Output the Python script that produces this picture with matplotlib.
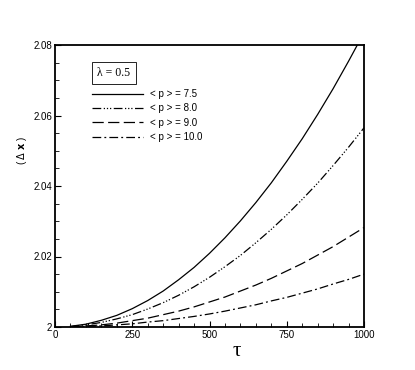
import matplotlib
matplotlib.use("Agg")
import matplotlib.pyplot as plt
from matplotlib.ticker import MultipleLocator, FuncFormatter

tau = [50, 100, 150, 200, 250, 300, 350, 400, 450, 500, 550, 600, 650, 700,
       750, 800, 850, 900, 950, 1000]
dx_75 = [2.0002, 2.0008, 2.0019, 2.0033, 2.0052, 2.0075, 2.0102, 2.0134, 2.0169, 2.0209,
         2.0253, 2.0301, 2.0353, 2.0409, 2.0470, 2.0534, 2.0603, 2.0676, 2.0754, 2.0835]
dx_80 = [2.0001, 2.0006, 2.0013, 2.0023, 2.0035, 2.0051, 2.0069, 2.0090, 2.0114, 2.0141,
         2.0171, 2.0203, 2.0239, 2.0277, 2.0318, 2.0362, 2.0408, 2.0458, 2.0510, 2.0565]
dx_90 = [2.0001, 2.0003, 2.0006, 2.0011, 2.0018, 2.0025, 2.0035, 2.0045, 2.0057, 2.0071,
         2.0085, 2.0102, 2.0119, 2.0138, 2.0159, 2.0180, 2.0204, 2.0228, 2.0255, 2.0282]
dx_100 = [2.0000, 2.0002, 2.0003, 2.0006, 2.0009, 2.0014, 2.0018, 2.0024, 2.0030, 2.0037,
          2.0045, 2.0054, 2.0063, 2.0074, 2.0084, 2.0096, 2.0108, 2.0122, 2.0135, 2.0150]
labels = ["< p > = 7.5", "< p > = 8.0", "< p > = 9.0", "< p > = 10.0"]
xticks = [0, 250, 500, 750, 1000]
yticks = [2.00, 2.02, 2.04, 2.06, 2.08]

plt.rcParams['font.family'] = ['Liberation Sans', 'DejaVu Sans']

W, H = 415, 370
fig = plt.figure(figsize=(W / 100, H / 100), dpi=100)
L, R, T, B = 55, 364, 45, 327
ax = fig.add_axes([L / W, 1 - B / H, (R - L) / W, (B - T) / H])

styles = [
    dict(linestyle='-'),
    dict(linestyle=(0, (7, 2, 1, 1.5, 1, 1.5, 1, 2))),
    dict(linestyle=(0, (9, 3.5))),
    dict(linestyle=(0, (7, 2.5, 1.5, 2.5))),
]
series = [dx_75, dx_80, dx_90, dx_100]
lines = []
for ys, st, lab in zip(series, styles, labels):
    ln, = ax.plot(tau, ys, color='black', lw=0.9, label=lab, **st)
    lines.append(ln)

ax.set_xlim(0, 1000)
ax.set_ylim(2.0, 2.08)
ax.set_xticks(xticks)
ax.set_yticks(yticks)
ax.xaxis.set_minor_locator(MultipleLocator(50))
ax.yaxis.set_minor_locator(MultipleLocator(0.005))
ax.yaxis.set_major_formatter(FuncFormatter(lambda v, p: ('%.2f' % v).rstrip('0').rstrip('.')))
ax.tick_params(which='both', direction='in', top=False, right=False, labelsize=7, pad=2)
ax.tick_params(which='major', length=4.5, width=0.8)
ax.tick_params(which='minor', length=3, width=0.6)
for s in ax.spines.values():
    s.set_linewidth(1.3)

# legend
leg = ax.legend(handles=lines, loc='upper left', bbox_to_anchor=((92 - L) / (R - L), 1 - (89 - T) / (B - T)),
                frameon=False, fontsize=7, handlelength=5.2, handletextpad=0.8,
                labelspacing=0.45, borderpad=0, borderaxespad=0)

ax.text((114 - L) / (R - L) * 1000, 2.08 - (73 - T) / (B - T) * 0.08, 'λ = 0.5',
        fontsize=8.5, family='Liberation Serif', ha='center', va='center',
        bbox=dict(boxstyle='square,pad=0.45', fc='white', ec='black', lw=0.6))

fig.text(237 / W, 1 - 352 / H, 'τ', fontsize=15, ha='center', va='center',
         family='Liberation Serif')
fig.text(22 / W, 1 - 151 / H, r'( $\Delta$ $\mathbf{x}$ )', fontsize=7, rotation=90,
         ha='center', va='center', math_fontfamily='dejavusans')

fig.savefig('out.png', dpi=100)
